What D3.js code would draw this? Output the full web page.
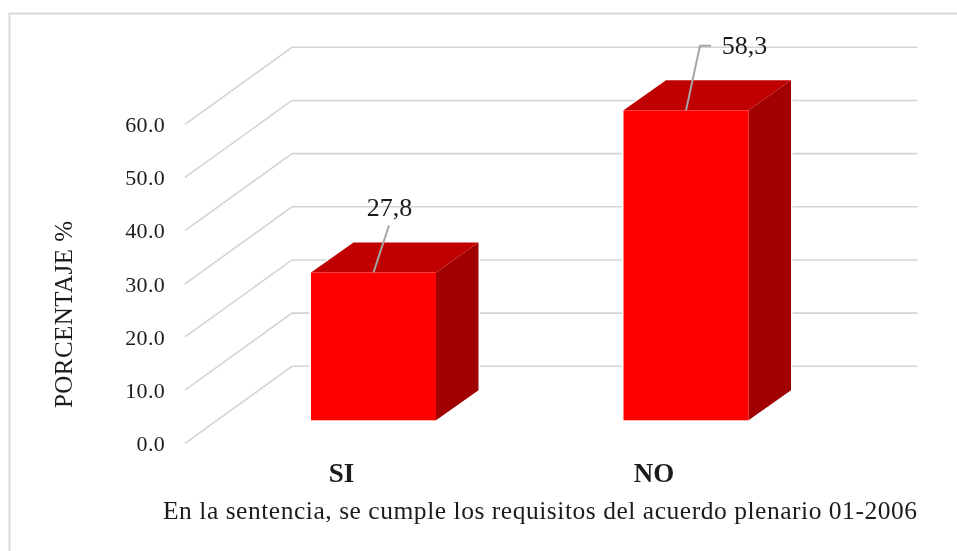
<!DOCTYPE html>
<html><head><meta charset="utf-8">
<script src="https://cdn.jsdelivr.net/npm/d3@7/dist/d3.min.js"></script>
<style>html,body{margin:0;padding:0;background:#fff}svg{display:block}text{font-family:"Liberation Serif",serif;fill:#1c1c1c}</style>
</head><body><svg id="c" width="957" height="551"></svg>
<script>
const categories = ["SI", "NO"];
const values = [27.8, 58.3];
const valueLabels = ["27,8", "58,3"];
const tickValues = [0, 10, 20, 30, 40, 50, 60];
const yTitle = "PORCENTAJE %";
const xTitle = "En la sentencia, se cumple los requisitos del acuerdo plenario 01-2006";

const svg = d3.select("#c");
const soft = svg.append("defs").append("filter").attr("id", "soft");
soft.append("feGaussianBlur").attr("stdDeviation", 0.3);
// frame
svg.append("path").attr("d", "M9.5,551V13.5H957").attr("fill", "none").attr("stroke", "#d9d9d9").attr("stroke-width", 2);

const y = d3.scaleLinear().domain([0, 60]).range([420.3, 101.3]);
const x = d3.scaleBand().domain(categories).range([217.25, 842.25]).paddingInner(0.6).paddingOuter(0.3);
const depth = { dx: 42.5, dy: -30 };
const frontX = 185, frontDy = 23;
const backX = 292, backRight = 917.7, backDy = -54;

// gridlines
const line = d3.line();
svg.append("g").selectAll("path").data(tickValues).join("path")
  .attr("d", v => line([[frontX, y(v) + frontDy], [backX, y(v) + backDy], [backRight, y(v) + backDy]]))
  .attr("fill", "none").attr("stroke", "#d4d4d4").attr("stroke-width", 1.6);

// axis
const axis = d3.axisLeft(y).tickValues(tickValues).tickSize(0).tickPadding(0).tickFormat(d3.format(".1f"));
const gA = svg.append("g").attr("transform", "translate(165,0)").call(axis);
gA.select(".domain").remove();
gA.selectAll("text").attr("font-size", 22).attr("font-family", '"Liberation Serif",serif').attr("letter-spacing", 0.3)
  .attr("dy", "0.32em").attr("y", 23.2).attr("fill", "#1c1c1c").attr("filter", "url(#soft)");

// bars
const bars = svg.append("g").selectAll("g").data(categories.map((c, i) => ({ c, v: values[i], l: valueLabels[i] }))).join("g");
const halo = d => {
  const l = x(d.c), r = l + x.bandwidth(), t = y(d.v), b = y(0);
  return [[l, b], [l, t], [l + depth.dx, t + depth.dy], [r + depth.dx, t + depth.dy], [r + depth.dx, b + depth.dy], [r, b]];
};
bars.append("path").attr("d", d => line(halo(d)) + "Z").attr("fill", "#fff").attr("stroke", "#fff").attr("stroke-width", 3);
bars.append("path").attr("fill", "#a00000").attr("d", d => {
  const r = x(d.c) + x.bandwidth(), t = y(d.v), b = y(0);
  return line([[r, t], [r + depth.dx, t + depth.dy], [r + depth.dx, b + depth.dy], [r, b]]) + "Z";
});
bars.append("path").attr("fill", "#c00000").attr("d", d => {
  const l = x(d.c), r = l + x.bandwidth(), t = y(d.v);
  return line([[l, t], [l + depth.dx, t + depth.dy], [r + depth.dx, t + depth.dy], [r, t]]) + "Z";
});
bars.append("rect").attr("fill", "#ff0000")
  .attr("x", d => x(d.c)).attr("y", d => y(d.v)).attr("width", x.bandwidth()).attr("height", d => y(0) - y(d.v));

// value label leaders
const cx = c => x(c) + x.bandwidth() / 2;
const leader = [[[0, 0], [15.5, -47]], [[0, 0], [14, -64.5], [25, -64.5]]];
bars.append("path").attr("fill", "none").attr("stroke", "#a6a6a6").attr("stroke-width", 2)
  .attr("d", (d, i) => line(leader[i].map(p => [cx(d.c) + p[0], y(d.v) + p[1]])));
const labelOffset = [[16, -56.8], [58.5, -56]];
bars.append("text").text(d => d.l).attr("font-size", 26).attr("text-anchor", "middle").attr("filter", "url(#soft)")
  .attr("x", (d, i) => cx(d.c) + labelOffset[i][0]).attr("y", (d, i) => y(d.v) + labelOffset[i][1]);

// category labels
svg.append("g").selectAll("text").data(categories).join("text").text(d => d)
  .attr("x", d => cx(d) - 32).attr("y", 482).attr("text-anchor", "middle").attr("filter", "url(#soft)")
  .attr("font-size", 27).attr("font-weight", "bold").attr("fill", "#111");

// titles
svg.append("text").text(xTitle).attr("x", 163).attr("y", 519).attr("font-size", 25.5).attr("filter", "url(#soft)")
  .attr("textLength", 754).attr("lengthAdjust", "spacing");
svg.append("text").text(yTitle).attr("transform", "translate(72,408) rotate(-90)").attr("font-size", 25).attr("filter", "url(#soft)")
  .attr("textLength", 187).attr("lengthAdjust", "spacing");
</script></body></html>
